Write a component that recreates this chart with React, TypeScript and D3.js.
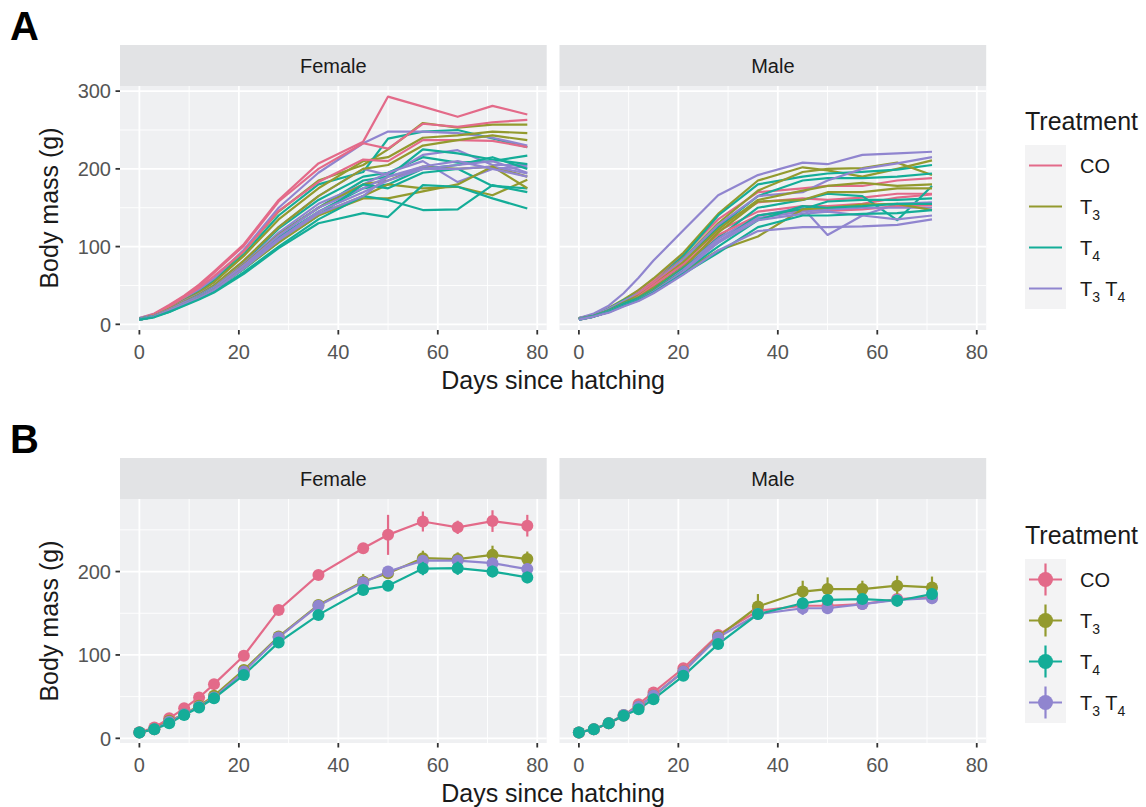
import React from 'react';
import * as d3 from 'd3';

// ---------------- DATA ----------------
const treatments = ['CO', 'T3', 'T4', 'T3T4'];
const daysFemale = [0, 3, 6, 9, 12, 15, 21, 28, 36, 45, 50, 57, 64, 71, 78];
const daysMale = [0, 3, 6, 9, 12, 15, 21, 28, 36, 45, 50, 57, 64, 71];
const xTicks = [0, 20, 40, 60, 80];
const xMinor = [10, 30, 50, 70];
const yTicksA = [0, 100, 200, 300];
const yTicksB = [0, 100, 200];
const yMinor = [50, 150, 250];

// Panel A: individual birds, female
const femaleCO = [
  [8, 14, 25, 37, 51, 68, 103, 160, 207, 235, 293, 280, 267, 281, 270],
  [7, 13, 24, 36, 49, 66, 101, 158, 200, 233, 226, 258, 254, 260, 263],
  [7, 12, 23, 35, 47, 62, 94, 146, 183, 212, 210, 237, 237, 236, 228],
];
const femaleT3 = [
  [7, 12, 22, 33, 44, 58, 94, 145, 185, 205, 225, 259, 253, 257, 257],
  [7, 12, 21, 31, 41, 54, 88, 135, 175, 210, 215, 240, 243, 248, 246],
  [7, 11, 20, 29, 38, 50, 82, 125, 165, 200, 205, 230, 237, 243, 237],
  [7, 11, 19, 28, 36, 47, 77, 115, 150, 180, 185, 203, 200, 203, 190],
  [6, 10, 18, 26, 34, 44, 72, 108, 142, 165, 180, 175, 177, 166, 186],
  [6, 10, 18, 26, 34, 44, 72, 105, 140, 162, 162, 171, 180, 203, 175],
];
const femaleT4 = [
  [7, 12, 21, 32, 43, 56, 90, 140, 180, 196, 239, 248, 250, 239, 228],
  [7, 11, 19, 29, 38, 50, 80, 123, 160, 190, 195, 215, 208, 210, 217],
  [7, 11, 18, 28, 37, 48, 76, 116, 150, 185, 190, 225, 220, 212, 206],
  [7, 11, 18, 27, 36, 47, 74, 112, 145, 175, 180, 200, 205, 215, 200],
  [6, 10, 17, 26, 35, 45, 71, 106, 140, 180, 175, 195, 200, 178, 175],
  [6, 10, 16, 25, 33, 42, 67, 100, 135, 165, 160, 147, 148, 179, 170],
  [6, 9, 16, 24, 32, 41, 65, 98, 130, 143, 138, 179, 177, 162, 149],
];
const femaleT3T4 = [
  [8, 13, 23, 34, 45, 59, 96, 150, 195, 233, 248, 248, 246, 240, 230],
  [7, 11, 20, 30, 39, 50, 82, 125, 165, 200, 192, 218, 224, 205, 205],
  [7, 11, 19, 28, 37, 48, 78, 118, 155, 180, 195, 210, 183, 200, 203],
  [7, 11, 19, 28, 36, 47, 76, 114, 150, 175, 190, 200, 205, 210, 195],
  [6, 10, 18, 27, 35, 45, 74, 110, 145, 170, 185, 200, 200, 203, 194],
  [6, 10, 18, 26, 34, 44, 72, 108, 142, 165, 190, 203, 210, 200, 190],
];

// Panel A: individual birds, male
const maleCO = [
  [8, 12, 20, 30, 44, 58, 90, 135, 170, 175, 178, 178, 185, 188],
  [7, 11, 18, 28, 41, 55, 85, 126, 157, 162, 160, 163, 168, 168],
  [7, 11, 18, 26, 39, 53, 80, 120, 145, 152, 152, 155, 163, 167],
  [6, 10, 16, 24, 36, 50, 77, 115, 140, 147, 146, 148, 152, 153],
];
const maleT3 = [
  [8, 12, 21, 32, 44, 59, 92, 142, 185, 202, 198, 190, 200, 211],
  [7, 11, 19, 29, 40, 53, 85, 130, 172, 196, 200, 201, 208, 192],
  [7, 11, 18, 28, 37, 50, 80, 122, 160, 172, 178, 182, 178, 180],
  [7, 11, 17, 26, 35, 47, 73, 118, 158, 160, 170, 170, 175, 175],
  [6, 10, 16, 24, 32, 44, 68, 95, 113, 148, 150, 154, 155, 147],
];
const maleT4 = [
  [8, 12, 20, 31, 40, 54, 88, 140, 180, 190, 194, 196, 199, 205],
  [7, 11, 19, 29, 37, 50, 80, 125, 165, 185, 188, 188, 190, 194],
  [7, 11, 18, 27, 35, 47, 75, 112, 150, 160, 168, 165, 134, 178],
  [7, 11, 17, 26, 34, 45, 72, 105, 140, 148, 158, 160, 160, 162],
  [6, 10, 16, 25, 32, 43, 68, 100, 134, 152, 150, 152, 155, 155],
  [6, 10, 16, 24, 31, 41, 65, 92, 125, 140, 140, 142, 143, 147],
];
const maleT3T4 = [
  [8, 14, 24, 40, 60, 82, 121, 166, 192, 208, 206, 218, 220, 222],
  [7, 12, 20, 30, 40, 53, 84, 128, 165, 170, 185, 200, 207, 215],
  [7, 11, 17, 26, 34, 46, 73, 110, 140, 150, 115, 140, 155, 157],
  [7, 10, 16, 24, 32, 43, 70, 107, 137, 145, 148, 150, 150, 150],
  [6, 10, 16, 24, 31, 42, 68, 105, 134, 142, 145, 140, 135, 140],
  [6, 10, 15, 23, 30, 40, 64, 95, 120, 125, 125, 126, 128, 135],
];

// Panel B: group means and standard errors
const femaleMeanCO = [7.2, 13, 24, 36, 49, 65, 99, 154, 196, 228, 244, 260, 253, 260.5, 255];
const femaleMeanT3 = [7, 11, 21, 29, 39, 51, 82, 122, 160, 188, 198, 216, 215, 220, 215];
const femaleMeanT4 = [7, 10.8, 18, 28, 37, 48, 76, 115, 148, 178, 183, 203.6, 204, 200, 193];
const femaleMeanT3T4 = [7, 11, 20, 29, 38, 49, 80, 121, 159, 187, 200, 213, 213, 210, 203];
const femaleSeCO = [0.5, 1, 1, 1.5, 2, 2, 3, 3, 4, 5, 24, 12, 8, 13, 13];
const femaleSeT3 = [0.5, 0.8, 1, 1.5, 2, 2, 3, 4, 5, 9, 5, 9, 8, 11, 9];
const femaleSeT4 = [0.4, 0.6, 1, 1.2, 1.5, 2, 3, 4, 4, 6, 6, 8, 8, 7, 7];
const femaleSeT3T4 = [0.4, 0.7, 1, 1.3, 1.7, 2, 3, 4, 5, 6, 4, 6, 6, 6, 7];

const maleMeanCO = [7, 11, 18, 27, 41, 55, 84, 124, 153, 159, 159, 161, 167, 169];
const maleMeanT3 = [7, 11, 18, 28, 38, 51, 80, 122, 158, 176, 179, 179, 183, 181];
const maleMeanT4 = [7, 11, 18, 27, 35, 47, 75, 113, 149, 162, 166, 167, 165, 173];
const maleMeanT3T4 = [7, 11, 18, 28, 38, 51, 80, 121, 149, 156, 156, 161, 166, 168];
const maleSeCO = [0.4, 0.6, 1, 1.3, 1.7, 2, 3, 4, 5, 5, 4, 5, 5, 5];
const maleSeT3 = [0.5, 0.7, 1, 1.5, 2, 2.5, 4, 6, 15, 13, 14, 10, 12, 13];
const maleSeT4 = [0.4, 0.6, 1, 1.3, 1.7, 2, 3, 4, 5, 6, 6, 6, 7, 7];
const maleSeT3T4 = [0.4, 0.6, 1, 1.4, 2, 2.5, 4, 6, 7, 8, 7, 7, 7, 7];

// ---------------- STYLE ----------------
const FONT = '"Liberation Sans", Arial, Helvetica, sans-serif';
const PANEL = '#EFF0F2';
const STRIP = '#E2E3E5';
const KEYBG = '#F3F3F4';
const color = d3
  .scaleOrdinal<string, string>()
  .domain(treatments)
  .range(['#E36A89', '#939A2E', '#14AD98', '#9085CF']);

const FEM_X: [number, number] = [120, 546.7];
const MAL_X: [number, number] = [559.5, 986.2];
const X_DOMAIN: [number, number] = [-3.9, 81.9];

type Layout = { stripTop: number; top: number; bottom: number; yDomain: [number, number]; yTicks: number[] };
const LAYOUT_A: Layout = { stripTop: 45, top: 86, bottom: 330, yDomain: [-7.3, 306.6], yTicks: yTicksA };
const LAYOUT_B: Layout = { stripTop: 458, top: 499, bottom: 743, yDomain: [-5.6, 287], yTicks: yTicksB };

function TLabel({ x, y, name, size }: { x: number; y: number; name: string; size: number }) {
  const sub = size * 0.7;
  const d = size * 0.3;
  if (name === 'CO') return <text x={x} y={y} fontSize={size} fill="#1A1A1A">CO</text>;
  if (name === 'T3' || name === 'T4')
    return (
      <text x={x} y={y} fontSize={size} fill="#1A1A1A">
        T<tspan fontSize={sub} dy={d}>{name.slice(1)}</tspan>
      </text>
    );
  return (
    <text x={x} y={y} fontSize={size} fill="#1A1A1A">
      T<tspan fontSize={sub} dy={d}>3</tspan>
      <tspan dy={-d}> T</tspan>
      <tspan fontSize={sub} dy={d}>4</tspan>
    </text>
  );
}

function Facet({
  xr, L, label, showY, children,
}: { xr: [number, number]; L: Layout; label: string; showY: boolean; children: (x: any, y: any) => React.ReactNode }) {
  const x = d3.scaleLinear().domain(X_DOMAIN).range(xr);
  const y = d3.scaleLinear().domain(L.yDomain).range([L.bottom, L.top]);
  const [x0, x1] = xr;
  return (
    <g>
      <rect x={x0} y={L.stripTop} width={x1 - x0} height={L.top - L.stripTop} fill={STRIP} />
      <text x={(x0 + x1) / 2} y={L.stripTop + 27.5} textAnchor="middle" fontSize={20} fill="#1A1A1A">
        {label}
      </text>
      <rect x={x0} y={L.top} width={x1 - x0} height={L.bottom - L.top} fill={PANEL} />
      {yMinor.map((v) => (
        <line key={'ym' + v} x1={x0} x2={x1} y1={y(v)} y2={y(v)} stroke="#fff" strokeWidth={0.9} />
      ))}
      {xMinor.map((v) => (
        <line key={'xm' + v} x1={x(v)} x2={x(v)} y1={L.top} y2={L.bottom} stroke="#fff" strokeWidth={0.9} />
      ))}
      {L.yTicks.map((v) => (
        <line key={'yM' + v} x1={x0} x2={x1} y1={y(v)} y2={y(v)} stroke="#fff" strokeWidth={1.8} />
      ))}
      {xTicks.map((v) => (
        <line key={'xM' + v} x1={x(v)} x2={x(v)} y1={L.top} y2={L.bottom} stroke="#fff" strokeWidth={1.8} />
      ))}
      {children(x, y)}
      {xTicks.map((v) => (
        <g key={'xt' + v}>
          <line x1={x(v)} x2={x(v)} y1={L.bottom} y2={L.bottom + 4.5} stroke="#333" strokeWidth={1.8} />
          <text x={x(v)} y={L.bottom + 29} textAnchor="middle" fontSize={20} fill="#555">
            {v}
          </text>
        </g>
      ))}
      {showY &&
        L.yTicks.map((v) => (
          <g key={'yt' + v}>
            <line x1={x0 - 4.5} x2={x0} y1={y(v)} y2={y(v)} stroke="#333" strokeWidth={1.8} />
            <text x={x0 - 9} y={y(v)} dy="0.36em" textAnchor="end" fontSize={20} fill="#555">
              {v}
            </text>
          </g>
        ))}
    </g>
  );
}

function interleave(groups: { trt: string; rows: number[][] }[]) {
  const out: { trt: string; vals: number[] }[] = [];
  const maxN = d3.max(groups, (g) => g.rows.length) || 0;
  for (let i = 0; i < maxN; i++) {
    groups.forEach((g) => {
      if (g.rows[i]) out.push({ trt: g.trt, vals: g.rows[i] });
    });
  }
  return out;
}

const femaleBirds = interleave([
  { trt: 'CO', rows: femaleCO },
  { trt: 'T3', rows: femaleT3 },
  { trt: 'T4', rows: femaleT4 },
  { trt: 'T3T4', rows: femaleT3T4 },
]);
const maleBirds = interleave([
  { trt: 'CO', rows: maleCO },
  { trt: 'T3', rows: maleT3 },
  { trt: 'T4', rows: maleT4 },
  { trt: 'T3T4', rows: maleT3T4 },
]);

const femaleMeans = [
  { trt: 'CO', mean: femaleMeanCO, se: femaleSeCO },
  { trt: 'T3', mean: femaleMeanT3, se: femaleSeT3 },
  { trt: 'T3T4', mean: femaleMeanT3T4, se: femaleSeT3T4 },
  { trt: 'T4', mean: femaleMeanT4, se: femaleSeT4 },
];
const maleMeans = [
  { trt: 'CO', mean: maleMeanCO, se: maleSeCO },
  { trt: 'T3', mean: maleMeanT3, se: maleSeT3 },
  { trt: 'T3T4', mean: maleMeanT3T4, se: maleSeT3T4 },
  { trt: 'T4', mean: maleMeanT4, se: maleSeT4 },
];

function Spaghetti({ birds, days, x, y }: any) {
  const line = d3
    .line<number>()
    .x((_, i) => x(days[i]))
    .y((v) => y(v));
  return (
    <g>
      {birds.map((b: any, i: number) => (
        <path key={i} d={line(b.vals) || ''} fill="none" stroke={color(b.trt)} strokeWidth={2.2} strokeLinejoin="round" />
      ))}
    </g>
  );
}

function MeanPlot({ groups, days, x, y }: any) {
  const line = d3
    .line<number>()
    .x((_, i) => x(days[i]))
    .y((v) => y(v));
  return (
    <g>
      {groups.map((g: any) => (
        <path key={'l' + g.trt} d={line(g.mean) || ''} fill="none" stroke={color(g.trt)} strokeWidth={2.2} />
      ))}
      {groups.map((g: any) => (
        <g key={'p' + g.trt}>
          {g.mean.map((m: number, i: number) => (
            <g key={i}>
              <line x1={x(days[i])} x2={x(days[i])} y1={y(m - g.se[i])} y2={y(m + g.se[i])} stroke={color(g.trt)} strokeWidth={2.2} />
              <circle cx={x(days[i])} cy={y(m)} r={6} fill={color(g.trt)} />
            </g>
          ))}
        </g>
      ))}
    </g>
  );
}

function Legend({ top, kind }: { top: number; kind: 'line' | 'point' }) {
  const keyTop = top + 24;
  return (
    <g>
      <text x={1025} y={top + 9} fontSize={25} fill="#1A1A1A">
        Treatment
      </text>
      {treatments.map((t, i) => {
        const cy = keyTop + 41 * i + 20.5;
        return (
          <g key={t}>
            <rect x={1025} y={keyTop + 41 * i} width={41} height={41} fill={KEYBG} />
            <line x1={1029} x2={1062} y1={cy} y2={cy} stroke={color(t)} strokeWidth={2.2} />
            {kind === 'point' && (
              <>
                <line x1={1045.5} x2={1045.5} y1={cy - 16} y2={cy + 16} stroke={color(t)} strokeWidth={2.2} />
                <circle cx={1045.5} cy={cy} r={7.5} fill={color(t)} />
              </>
            )}
            <TLabel x={1080} y={cy + 7} name={t} size={20} />
          </g>
        );
      })}
    </g>
  );
}

function Row({ L, label, kind, title }: { L: Layout; label: string; kind: 'line' | 'point'; title: number }) {
  const midY = (L.top + L.bottom) / 2;
  return (
    <g>
      <text x={10} y={L.stripTop - 5} fontSize={40} fontWeight="bold" fill="#000">
        {label}
      </text>
      <Facet xr={FEM_X} L={L} label="Female" showY>
        {(x, y) =>
          kind === 'line' ? (
            <Spaghetti birds={femaleBirds} days={daysFemale} x={x} y={y} />
          ) : (
            <MeanPlot groups={femaleMeans} days={daysFemale} x={x} y={y} />
          )
        }
      </Facet>
      <Facet xr={MAL_X} L={L} label="Male" showY={false}>
        {(x, y) =>
          kind === 'line' ? (
            <Spaghetti birds={maleBirds} days={daysMale} x={x} y={y} />
          ) : (
            <MeanPlot groups={maleMeans} days={daysMale} x={x} y={y} />
          )
        }
      </Facet>
      <text transform={`translate(58,${midY}) rotate(-90)`} textAnchor="middle" fontSize={25} fill="#1A1A1A">
        Body mass (g)
      </text>
      <text x={(FEM_X[0] + MAL_X[1]) / 2} y={L.bottom + 59} textAnchor="middle" fontSize={25} fill="#1A1A1A">
        Days since hatching
      </text>
      <Legend top={title} kind={kind} />
    </g>
  );
}

export default function App() {
  return (
    <svg
      width={1146}
      height={807}
      viewBox="0 0 1146 807"
      style={{ position: 'absolute', left: 0, top: 0, background: '#fff', fontFamily: FONT }}
    >
      <rect x={0} y={0} width={1146} height={807} fill="#fff" />
      <Row L={LAYOUT_A} label="A" kind="line" title={121} />
      <Row L={LAYOUT_B} label="B" kind="point" title={535} />
    </svg>
  );
}
